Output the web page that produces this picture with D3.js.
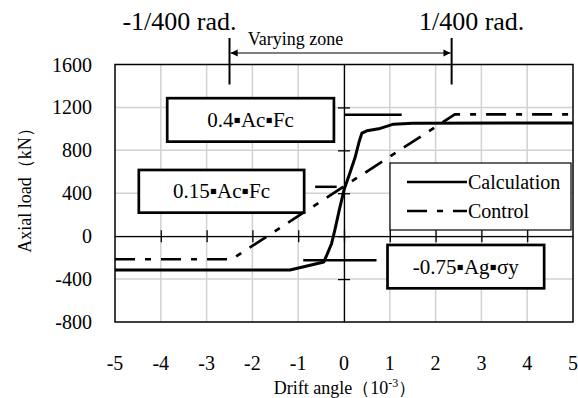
<!DOCTYPE html>
<html lang="en">
<head>
<meta charset="UTF-8">
<script src="https://d3js.org/d3.v7.min.js"></script>
<title>Axial load vs drift angle</title>
<style>
  body { margin: 0; background: #fff; }
  text { font-family: "Liberation Serif", "Times New Roman", serif; fill: #000; }
</style>
</head>
<body>
<div id="chart"></div>
<script>
// tick values
const xTicks = [-5, -4, -3, -2, -1, 0, 1, 2, 3, 4, 5];
const yTicks = [-800, -400, 0, 400, 800, 1200, 1600];

// Calculation (solid)
const calcX = [-5, -1.18, -0.44, -0.36, -0.27, -0.2, -0.1, 0, 0.13, 0.24, 0.33, 0.39, 0.5, 0.79, 1.08, 1.5, 5];
const calcY = [-315, -315, -240, -160, -68, 56, 250, 430, 590, 730, 880, 960, 982, 1004, 1044, 1052, 1055];

// Control (dash-dot)
const ctrlX = [-5, -2.45, 2.42, 5];
const ctrlY = [-215, -215, 1135, 1135];

// reference levels: label, level, x extent of the short line
const levelNames = ["0.4\u25AAAc\u25AAFc", "0.15\u25AAAc\u25AAFc", "-0.75\u25AAAg\u25AA\u03C3y"];
const levelValues = [1131, 460, -225];
const levelFrom = [0.02, -0.63, -0.89];
const levelTo = [1.26, -0.16, 0.71];
// label boxes (x0, x1, y top, y bottom in data units)
const boxX0 = [-3.86, -4.48, 0.95];
const boxX1 = [-0.22, -0.87, 4.37];
const boxYTop = [1286, 617, -82];
const boxYBot = [881, 219, -486];

// varying zone
const zoneEdges = [-2.5, 2.35];
const zoneLabels = ["-1/400 rad.", "1/400 rad."];

const W = 578, H = 398;
const x = d3.scaleLinear().domain([-5, 5]).range([115, 573]);
const y = d3.scaleLinear().domain([-800, 1600]).range([322, 64.5]);

const svg = d3.select("#chart").append("svg")
  .attr("width", W).attr("height", H);

// grid
svg.append("g").selectAll("line").data(xTicks.slice(1, -1)).join("line")
  .attr("x1", d => x(d)).attr("x2", d => x(d))
  .attr("y1", y(1600)).attr("y2", y(-800))
  .attr("stroke", "#d2d2d2").attr("stroke-width", 1.5);
svg.append("g").selectAll("line").data(yTicks.slice(1, -1)).join("line")
  .attr("x1", x(-5)).attr("x2", x(5))
  .attr("y1", d => y(d)).attr("y2", d => y(d))
  .attr("stroke", "#d2d2d2").attr("stroke-width", 1.5);

// plot frame
svg.append("rect")
  .attr("x", x(-5)).attr("y", y(1600))
  .attr("width", x(5) - x(-5)).attr("height", y(-800) - y(1600))
  .attr("fill", "none").attr("stroke", "#000").attr("stroke-width", 1.5);

// zero axes with crossing ticks
svg.append("g")
  .attr("transform", `translate(0,${y(0)})`)
  .call(d3.axisBottom(x).tickValues(xTicks.slice(1, -1)).tickSizeOuter(0).tickFormat(""))
  .call(g => g.selectAll(".tick line").attr("y1", -6).attr("y2", 6).attr("stroke-width", 1.3))
  .call(g => g.select(".domain").attr("stroke-width", 1.3));
svg.append("g")
  .attr("transform", `translate(${x(0)},0)`)
  .call(d3.axisLeft(y).tickValues(yTicks.slice(1, -1)).tickSizeOuter(0).tickFormat(""))
  .call(g => g.selectAll(".tick line").attr("x1", -6).attr("x2", 6).attr("stroke-width", 1.3))
  .call(g => g.select(".domain").attr("stroke-width", 1.3));

// tick labels
svg.append("g").selectAll("text").data(xTicks).join("text")
  .attr("x", d => x(d)).attr("y", 370)
  .attr("text-anchor", "middle").attr("font-size", 20)
  .text(d => d);
svg.append("g").selectAll("text").data(yTicks).join("text")
  .attr("x", 92).attr("y", d => y(d) + 7)
  .attr("text-anchor", "end").attr("font-size", 20)
  .text(d => d);

// axis titles
const xt = svg.append("text").attr("x", 345).attr("y", 394)
  .attr("text-anchor", "middle").attr("font-size", 18);
xt.append("tspan").text("Drift angle\uFF0810");
xt.append("tspan").attr("dy", -7).attr("font-size", 12).text("-3");
xt.append("tspan").attr("dy", 7).text("\uFF09");

svg.append("text")
  .attr("transform", "translate(31,186) rotate(-90)")
  .attr("text-anchor", "middle").attr("font-size", 18)
  .text("Axial load\uFF08kN\uFF09");

// level boxes
const boxes = svg.append("g").selectAll("g").data(levelNames).join("g");
boxes.append("rect")
  .attr("x", (d, i) => x(boxX0[i])).attr("y", (d, i) => y(boxYTop[i]))
  .attr("width", (d, i) => x(boxX1[i]) - x(boxX0[i]))
  .attr("height", (d, i) => y(boxYBot[i]) - y(boxYTop[i]))
  .attr("fill", "#fff").attr("stroke", "#000").attr("stroke-width", 2.7);
boxes.append("text")
  .attr("x", (d, i) => (x(boxX0[i]) + x(boxX1[i])) / 2)
  .attr("y", (d, i) => (y(boxYTop[i]) + y(boxYBot[i])) / 2 + 7)
  .attr("text-anchor", "middle").attr("font-size", 21)
  .text(d => d);

// short level lines
svg.append("g").selectAll("line").data(levelValues).join("line")
  .attr("x1", (d, i) => x(levelFrom[i])).attr("x2", (d, i) => x(levelTo[i]))
  .attr("y1", d => y(d)).attr("y2", d => y(d))
  .attr("stroke", "#000").attr("stroke-width", 2.5);

// series
const line = d3.line().x(d => x(d[0])).y(d => y(d[1]));
const ctrlDash = "20,10,6,10";
svg.append("path")
  .datum(ctrlX.map((v, i) => [v, ctrlY[i]]))
  .attr("d", line).attr("fill", "none")
  .attr("stroke", "#000").attr("stroke-width", 2.7).attr("stroke-dasharray", ctrlDash);
svg.append("path")
  .datum(calcX.map((v, i) => [v, calcY[i]]))
  .attr("d", line).attr("fill", "none")
  .attr("stroke", "#000").attr("stroke-width", 3).attr("stroke-linejoin", "round");

// legend
const lg = svg.append("g").attr("transform", "translate(390,163)");
lg.append("rect").attr("width", 181).attr("height", 67)
  .attr("fill", "#fff").attr("stroke", "#000").attr("stroke-width", 1.2);
[["Calculation", null], ["Control", ctrlDash]].forEach(([name, dash], i) => {
  const yy = 19 + i * 29;
  lg.append("line").attr("x1", 17).attr("x2", 77).attr("y1", yy).attr("y2", yy)
    .attr("stroke", "#000").attr("stroke-width", 2.7)
    .attr("stroke-dasharray", dash);
  lg.append("text").attr("x", 78).attr("y", yy + 7).attr("font-size", 20).text(name);
});

// varying zone markers
const topY = 38, arrowY = 53;
svg.append("defs").selectAll("marker").data(["s", "e"]).join("marker")
  .attr("id", d => "arr" + d)
  .attr("viewBox", "0 0 10 10").attr("refX", 10).attr("refY", 5)
  .attr("markerWidth", 8).attr("markerHeight", 6).attr("orient", "auto-start-reverse")
  .append("path").attr("d", "M0,0L10,5L0,10z").attr("fill", "#000");
svg.append("g").selectAll("line").data(zoneEdges).join("line")
  .attr("x1", d => x(d)).attr("x2", d => x(d))
  .attr("y1", topY).attr("y2", y(1600) + 20)
  .attr("stroke", "#000").attr("stroke-width", 2);
svg.append("line")
  .attr("x1", x(zoneEdges[0]) + 1).attr("x2", x(zoneEdges[1]) - 1)
  .attr("y1", arrowY).attr("y2", arrowY)
  .attr("stroke", "#000").attr("stroke-width", 1.2)
  .attr("marker-start", "url(#arrs)").attr("marker-end", "url(#arre)");
svg.append("text").attr("x", (x(zoneEdges[0]) + x(zoneEdges[1])) / 2 - 45).attr("y", 45)
  .attr("text-anchor", "middle").attr("font-size", 18).text("Varying zone");
svg.append("g").selectAll("text").data(zoneLabels).join("text")
  .attr("x", (d, i) => i === 0 ? x(zoneEdges[i]) - 50 : x(zoneEdges[i]) + 20)
  .attr("y", 30)
  .attr("text-anchor", "middle").attr("font-size", 26)
  .text(d => d);
</script>
</body>
</html>
